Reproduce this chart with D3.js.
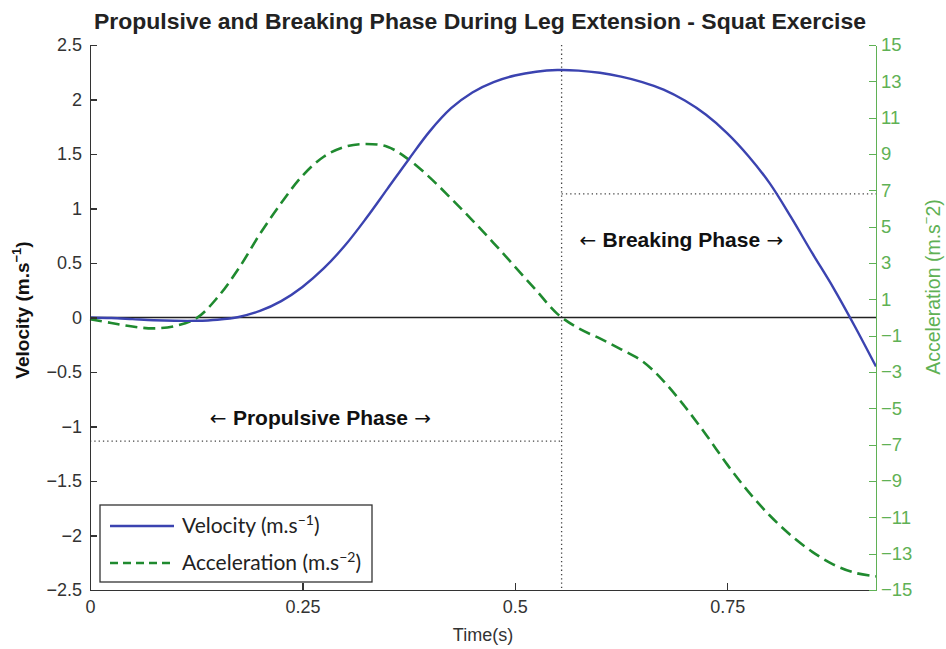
<!DOCTYPE html>
<html>
<head>
<meta charset="utf-8">
<script src="https://cdn.jsdelivr.net/npm/d3@7"></script>
<style>
  body { margin: 0; background: #fff; }
  svg text { font-family: "Liberation Sans", Arial, sans-serif; }
  .axis path, .axis line { shape-rendering: crispEdges; }
</style>
</head>
<body>
<div id="chart"></div>
<script>
// data
var time = [0, 0.025, 0.05, 0.075, 0.1, 0.125, 0.15, 0.175, 0.2, 0.225, 0.25, 0.275, 0.3, 0.325,
  0.35, 0.375, 0.4, 0.425, 0.45, 0.475, 0.5, 0.525, 0.55, 0.575, 0.6, 0.625, 0.65, 0.675,
  0.7, 0.725, 0.75, 0.775, 0.8, 0.825, 0.85, 0.875, 0.9, 0.925];
var velocity = [0, -0.005, -0.015, -0.025, -0.03, -0.03, -0.02, 0.005, 0.06, 0.15, 0.28, 0.45, 0.66, 0.91,
  1.18, 1.45, 1.71, 1.92, 2.065, 2.16, 2.22, 2.255, 2.27, 2.265, 2.245, 2.21, 2.16, 2.09,
  1.99, 1.86, 1.69, 1.48, 1.23, 0.92, 0.59, 0.27, -0.08, -0.45];
var acceleration = [-0.1, -0.3, -0.5, -0.6, -0.47, -0.05, 1.1, 2.7, 4.6, 6.3, 7.8, 8.85, 9.4, 9.55,
  9.4, 8.7, 7.7, 6.55, 5.35, 4.1, 2.8, 1.5, 0.2, -0.6, -1.15, -1.75, -2.4, -3.5,
  -4.9, -6.45, -8.1, -9.6, -10.9, -12.0, -12.9, -13.6, -14.05, -14.25];

var velTicks = [-2.5, -2, -1.5, -1, -0.5, 0, 0.5, 1, 1.5, 2, 2.5];
var accTicks = [-15, -13, -11, -9, -7, -5, -3, -1, 1, 3, 5, 7, 9, 11, 13, 15];
var timeTicks = [0, 0.25, 0.5, 0.75];

var phaseSplit = 0.555;   // time of peak velocity
var phaseLevel = 6.8;     // acceleration level of the dotted guides

var svgWidth = 946;
var svgHeight = 649;
var margin = { top: 45, right: 70, bottom: 59, left: 90 };
var width = svgWidth - margin.left - margin.right;
var height = svgHeight - margin.top - margin.bottom;

var blue = "#3b43b0";
var green = "#1f8a2f";
var axisGreen = "#5fb155";

var svg = d3.select("#chart")
  .append("svg")
  .attr("width", svgWidth)
  .attr("height", svgHeight);

var chartGroup = svg.append("g")
  .attr("transform", `translate(${margin.left}, ${margin.top})`);

var xScale = d3.scaleLinear().domain([0, 0.925]).range([0, width]);
var yVel = d3.scaleLinear().domain([-2.5, 2.5]).range([height, 0]);
var yAcc = d3.scaleLinear().domain([-15, 15]).range([height, 0]);

// zero line
chartGroup.append("line")
  .attr("x1", 0).attr("x2", width)
  .attr("y1", yVel(0)).attr("y2", yVel(0))
  .attr("stroke", "#222").attr("stroke-width", 1.3);

// dotted phase guides
var dotted = { stroke: "#444", width: 1.3, dash: "1.3,3" };
chartGroup.append("line")
  .attr("x1", xScale(phaseSplit)).attr("x2", xScale(phaseSplit))
  .attr("y1", 0).attr("y2", height)
  .attr("stroke", dotted.stroke).attr("stroke-width", dotted.width)
  .attr("stroke-dasharray", dotted.dash);
chartGroup.append("line")
  .attr("x1", 0).attr("x2", xScale(phaseSplit))
  .attr("y1", yAcc(-phaseLevel)).attr("y2", yAcc(-phaseLevel))
  .attr("stroke", dotted.stroke).attr("stroke-width", dotted.width)
  .attr("stroke-dasharray", dotted.dash);
chartGroup.append("line")
  .attr("x1", xScale(phaseSplit)).attr("x2", width)
  .attr("y1", yAcc(phaseLevel)).attr("y2", yAcc(phaseLevel))
  .attr("stroke", dotted.stroke).attr("stroke-width", dotted.width)
  .attr("stroke-dasharray", dotted.dash);

// curves
var velLine = d3.line()
  .x((d, i) => xScale(time[i]))
  .y(d => yVel(d))
  .curve(d3.curveCatmullRom.alpha(0.5));
var accLine = d3.line()
  .x((d, i) => xScale(time[i]))
  .y(d => yAcc(d))
  .curve(d3.curveCatmullRom.alpha(0.5));

chartGroup.append("path")
  .datum(acceleration)
  .attr("d", accLine)
  .attr("fill", "none")
  .attr("stroke", green)
  .attr("stroke-width", 2.6)
  .attr("stroke-dasharray", "12,6");

chartGroup.append("path")
  .datum(velocity)
  .attr("d", velLine)
  .attr("fill", "none")
  .attr("stroke", blue)
  .attr("stroke-width", 2.4);

// axes
var leftAxis = d3.axisLeft(yVel)
  .tickValues(velTicks)
  .tickSizeInner(-7).tickSizeOuter(0).tickPadding(8)
  .tickFormat(d3.format("~g"));
var rightAxis = d3.axisRight(yAcc)
  .tickValues(accTicks)
  .tickSizeInner(-7).tickSizeOuter(0).tickPadding(5);
var bottomAxis = d3.axisBottom(xScale)
  .tickValues(timeTicks)
  .tickSizeInner(-7).tickSizeOuter(0).tickPadding(10)
  .tickFormat(d3.format("~g"));

var gLeft = chartGroup.append("g").attr("class", "axis").call(leftAxis);
gLeft.select(".domain").attr("stroke", "#333").attr("stroke-width", 1.3);
gLeft.selectAll(".tick line").attr("stroke", "#333").attr("stroke-width", 1.2);
gLeft.selectAll("text").attr("fill", "#333").style("font-size", "18px");

var gBottom = chartGroup.append("g").attr("class", "axis")
  .attr("transform", `translate(0, ${height})`)
  .call(bottomAxis);
gBottom.select(".domain").attr("stroke", "#333").attr("stroke-width", 1.3);
gBottom.selectAll(".tick line").attr("stroke", "#333").attr("stroke-width", 1.2);
gBottom.selectAll("text").attr("fill", "#333").style("font-size", "18px");

var gRight = chartGroup.append("g").attr("class", "axis")
  .attr("transform", `translate(${width}, 0)`)
  .call(rightAxis);
gRight.select(".domain").attr("stroke", axisGreen).attr("stroke-width", 1.5);
gRight.selectAll(".tick line").attr("stroke", axisGreen).attr("stroke-width", 1.2);
gRight.selectAll("text").attr("fill", axisGreen).style("font-size", "18.5px");

// title and axis labels
svg.append("text")
  .attr("x", 480).attr("y", 29)
  .attr("text-anchor", "middle")
  .attr("textLength", 772)
  .attr("lengthAdjust", "spacingAndGlyphs")
  .style("font-size", "22px")
  .style("font-weight", "bold")
  .attr("fill", "#222")
  .text("Propulsive and Breaking Phase During Leg Extension - Squat Exercise");

svg.append("text")
  .attr("x", 483).attr("y", 641)
  .attr("text-anchor", "middle")
  .style("font-size", "18px")
  .attr("fill", "#333")
  .text("Time(s)");

var vLabel = svg.append("text")
  .attr("transform", "translate(29, 310) rotate(-90)")
  .attr("text-anchor", "middle")
  .style("font-size", "19px")
  .style("font-weight", "bold")
  .attr("fill", "#111");
vLabel.append("tspan").text("Velocity (m.s");
vLabel.append("tspan").attr("dy", -8).style("font-size", "13px").text("\u22121");
vLabel.append("tspan").attr("dy", 8).text(")");

var aLabel = svg.append("text")
  .attr("transform", "translate(940, 287) rotate(-90)")
  .attr("text-anchor", "middle")
  .style("font-size", "19.5px")
  .attr("fill", axisGreen);
aLabel.append("tspan").text("Acceleration (m.s");
aLabel.append("tspan").attr("dy", -9).style("font-size", "13px").text("\u2212");
aLabel.append("tspan").attr("dy", 9).text("2)");

// phase annotations, arrows drawn in a font with wider arrow glyphs
function phaseLabel(x, y, label) {
  var t = chartGroup.append("text")
    .attr("x", x).attr("y", y)
    .style("font-size", "21px").style("font-weight", "bold")
    .attr("fill", "#111");
  t.append("tspan").style("font-family", "'DejaVu Sans'").style("font-weight", "normal")
    .style("font-size", "20px").text("\u2190 ");
  t.append("tspan").text(label);
  t.append("tspan").style("font-family", "'DejaVu Sans'").style("font-weight", "normal")
    .style("font-size", "20px").text(" \u2192");
}
phaseLabel(xScale(0.141), yAcc(-5.9), "Propulsive Phase");
phaseLabel(xScale(0.576), yAcc(3.9), "Breaking Phase");

// legend
var legend = svg.append("g").attr("transform", "translate(100, 505)");
legend.append("rect")
  .attr("width", 272).attr("height", 77)
  .attr("fill", "#fff").attr("stroke", "#333").attr("stroke-width", 1.3);
var legendItems = [
  { label: "Velocity (m.s", sup: "\u22121", color: blue, dash: null },
  { label: "Acceleration (m.s", sup: "\u22122", color: green, dash: "8,5" }
];
legendItems.forEach(function(item, i) {
  var y = 21 + i * 37;
  legend.append("line")
    .attr("x1", 10).attr("x2", 74).attr("y1", y).attr("y2", y)
    .attr("stroke", item.color).attr("stroke-width", 2.4)
    .attr("stroke-dasharray", item.dash);
  var t = legend.append("text")
    .attr("x", 82).attr("y", y + 7)
    .style("font-family", "Lato, 'Open Sans', sans-serif")
    .style("font-size", "21px")
    .attr("fill", "#222");
  t.append("tspan").text(item.label);
  t.append("tspan").attr("dy", -8).style("font-size", "14px").text(item.sup);
  t.append("tspan").attr("dy", 8).text(")");
});
</script>
</body>
</html>
